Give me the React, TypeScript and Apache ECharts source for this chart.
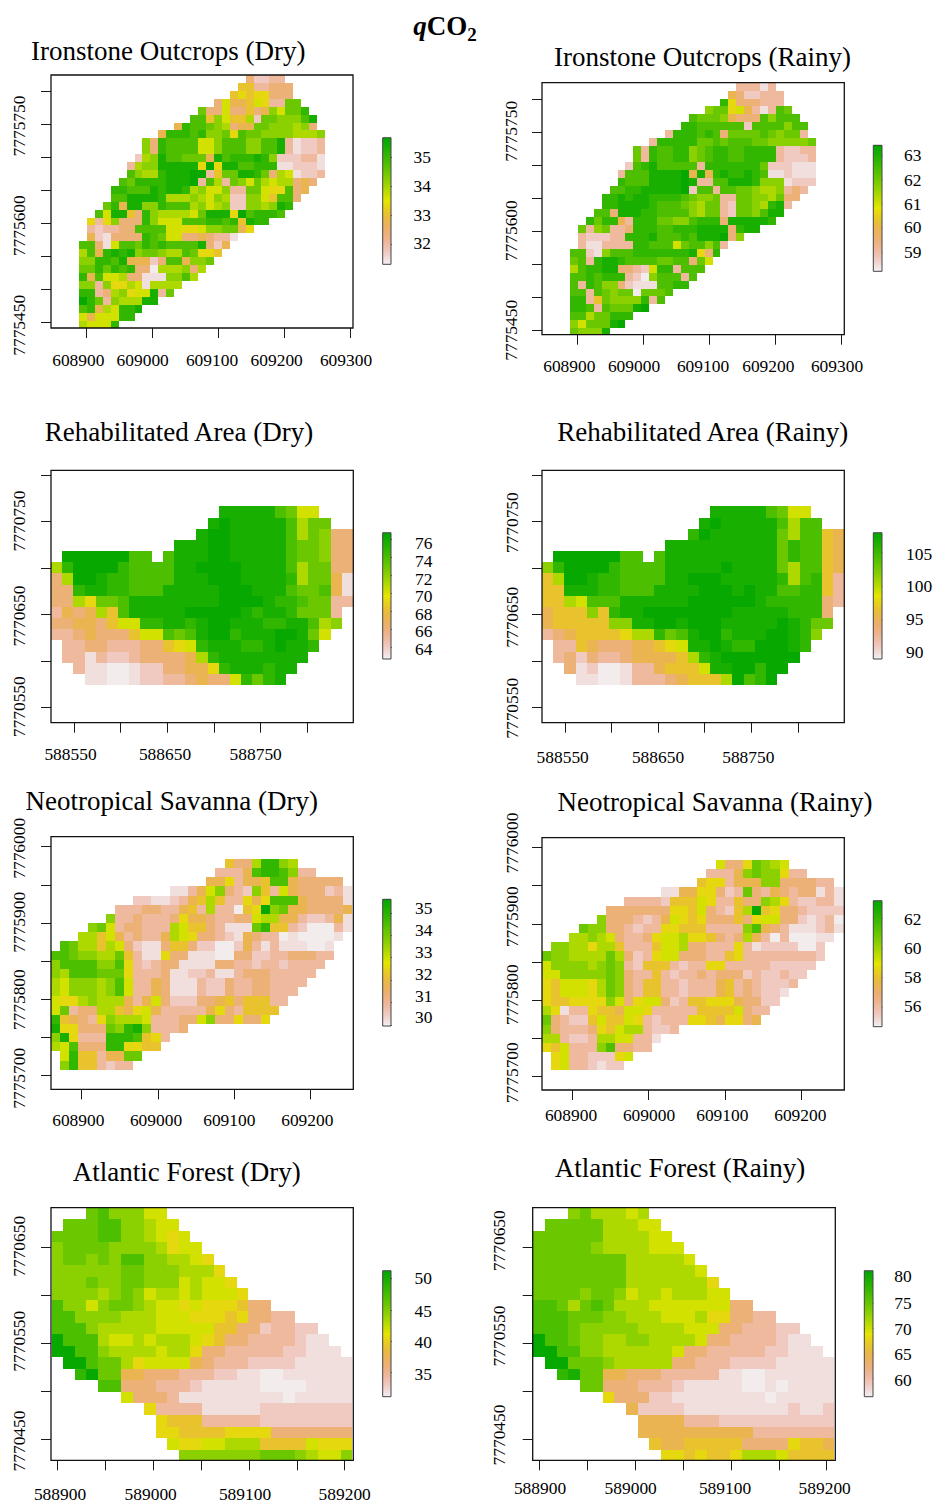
import React, { useEffect, useRef } from "react";
import * as echarts from "echarts";

const FONT = '"Liberation Serif", "Times New Roman", serif';

// Raster rows, top row first: "firstColumn:levels". Each level is one hex digit that
// indexes levelPositions (0 = bottom of the colour bar, f = top), "." = no cell.
const levelPositions = [0.012, 0.04, 0.1, 0.17, 0.25, 0.33, 0.4, 0.467, 0.533, 0.6, 0.667, 0.733, 0.8, 0.867, 0.93, 0.98];

const ironstoneDry = [
  "21:42233","20:6633444","19:67677444","17:485568733bb","15:b44844645a8bbd","14:cc6a86692bbaaace",
  "12:5dccba9455bbaaa9a4","10:5dddcdaab7cbbaaaa999a","8:a4dcccc88acccaacce31223","8:a4dcccc88acccaacce31223",
  "7:29aeccbbb5ecdddeda222331","6:39aaeeeee7f7eeccddd112221","6:ca99deeeff36bbeedb4981223","5:cbddddeeef3c93ba8b9899454",
  "4:ddcccedeed9a88a33bb877c45","4:cceeeed999a98a922aa86cc4","3:bd5eeaadccc9a89a22aa9aed","2:c8ee64da99998beee7fcdddc",
  "1:737a444da888cccddcd6edd","1:323344cccc88778aabb57","1:5214444dcb884454331","0:cc418ccbdcdcccce425",
  "0:9c5dedeabba99cb776","0:aaddce55524cc5aab","0:bbdbdcd440999a49","0:d5c88944111aac9",
  "0:aa3a779819999","0:dd349a788e3b","0:fdb3a999ee","0:cd598dde","0:85888dd","0:9888d",
];
const ironstoneRainy = [
  "21:33313","20:5422333","19:d7444333","17:abb785313cb","15:cbbba5444caccc","14:ddcccccc2ccccacc",
  "12:3dddcdc4bbbbcbabb3","10:3dddddbbcbcccbbaaaaab","8:b3dccddabcddccdddd32233","8:b3dccddabcddccdddd32223",
  "7:2cdeccccc3dddddddb222111","6:3ccceeeef5e5deddedc112111","6:dccceeeefe33cceeedaaa1222","5:ccddeeeeef2cc3ccbba99a343",
  "4:ddedeeddddcbaab33bbaa9b44","4:ddeeeedcccba9bb32bba9de3","3:cc4eeeddcccca9bb32bbacee","2:dbdd53dddbbaacddd4eeeeed",
  "1:b3ab334dddccdddeeee4dee","1:322233dddecccdceeef4a","1:3113333ddccc8bccac3","0:cc21acccddddddde74d",
  "0:bc3deedccccbbcc4b8","0:9cddee44328dd3ccc","0:ccdcddd320accc3c","0:c3dcaa42111ccdd",
  "0:cc3cbabb0bbbc","0:dd36baaaad3c","0:ddc3cbbbef","0:cc9bbddd","0:a8bbbef","0:baaae",
];
const rehabDry = [
  "15:eeeeecb88","14:efeeeeec9bb","13:effeeeeec9ba44","11:eeeffeeeeecbba44","1:ffffffcc.ceeeffeeeeecbba44",
  "0:9dffffdcccceeffffeeeec9bb44","0:49ffeddcccceeefffeeeed9bb51","0:44deeddccceeeeefffeeecbbc51",
  "0:4497bbceeeeeeeeffffeddcbb33","0:354596ceeeeefffffedeedbbb3","0:44554688ddeedeffeeeddeec9a",
  "0:3345444688cbceffdeeeffeb8","1:334433344678deeeddefeed","1:3313223444459deeeeeeee",
  "2:3110012244557deeedee","3:11001223345448dbde",
];
const rehabRainy = [
  "15:eeeeecb88","14:efeeeeec9cc","13:dfeeeeeeb9cc65","11:eeeeeeeeeebdcc65","1:ffffffcc.ceeeeeeeeeebdcc65",
  "0:adffffdcccceeeeefeeeeb9cc65","0:69ffeddcccceefffeeeeed9cd63","0:66eeeddccceeeefffefeeccdd63",
  "0:6698ccceeeeeeffffffeddddd43","0:5666a6deeffffffffeeeeeddd4","0:566666aaeeffefffeeeeefedbb",
  "0:3456666799dbceffdeeeffeda","1:336544455678eefeddfffed","1:3424334555569defffffff",
  "2:4120013356668eeffdff","3:11001333456669fcdf",
];
const savannaDry = [
  "19:6449dda9","18:3335cddca33","17:5573556cc544444","13:11358a432a6385444231","9:221123569633757ccc544441",
  "7:3334433563933067fab5544445","6:a33433347554334489955322351","4:ab8344333986643111bd663200031",
  "3:99685343359874432154330100001","1:cb9969842114664220025313111001","0:ccbaa99b63117441110044223344433",
  "0:accccaac7323441111443323323333","0:a9cccbbb733341122311344433333","0:98aaa9ac83354111322433443333",
  "0:98aaa9ac8335411132243344333","0:8779a999535842224456466633","0:8b34499657853333357436666",
  "0:d65437a9998333448a447447","0:e77444badea3334","0:ae7333dddc673","0:98c444dd7766","1:8d66355bb","1:ad663233",
];
const savannaRainy = [
  "19:8447ba98","18:3335abaa733","17:6773555aa444433","13:115577423b4354344131","9:333326668733644a97322331",
  "7:4444444776843269f674432222","6:a44432358767444647884421230","4:baa443233776663333ac543111231",
  "3:99a98433478897764349530300011","1:aa9979963336889443337312222002","0:baa9999b94237884443367333333332",
  "0:8aaaa9aba326663233773333322222","0:88aaaaaba43363233434442322322","0:7688879ba4366332333563432223",
  "0:7688879ba436633233356343221","0:7667777a847884236677754422","0:9713376658873333366668433",
  "0:b43226866873233377657745","0:a43334768993223","0:9932239988331","0:768333ac4433","1:783322278","1:78332122",
];
const atlanticDry = [
  "3:bcaaa88","1:bbbccaa988","0:bbbbccaa9878","0:abbbbaaaa9788","0:abbabaccaa9987","0:aaaaaabbaaa9997",
  "0:aaabaabbaaa89887","0:aaaa9aba899898887","0:caa8abba98878777644","0:ccaaaa999888777674433",
  "0:ccca9999988888664423322","0:fccc98898999876443333211","0:ffcca99998997443333322111",
  "1:ffcbb97888854333222211111","2:dfbb55444333221100111111","4:cc44433321111100001111",
  "6:84443111111111011111","8:733331111122222222","9:76663333322222222","9:77666677774444444",
  "10:8778899966668777","11:aaaaaaabbba988a",
];
const atlanticRainy = [
  "3:ab99989","1:bbbbb99988","0:bbbbbb999988","0:bbbbba9999888","0:bbbbbbbb999998","0:bbbbbbbb9999998",
  "0:bbbbbbbb99999997","0:bbbbabba899899988","0:ccb9bcb999888888844","0:cccbbbaa9998889774433",
  "0:cccbaaaaa99998884433322","0:fccbaa99aa99998443333211","0:ffccaa9999998443333322111",
  "1:ffbbba9999944333222211111","2:debb55444333331100111111","4:bb44433321111100101111",
  "6:74442211111111011111","8:522221111111112112","9:55553332222222222","9:55555555553333333",
  "10:6556666644447665","11:776766799986666",
];

const ironstoneXTicks = [608900, 609000, 609100, 609200, 609300];
const ironstoneYTicks = [7775450, 7775500, 7775550, 7775600, 7775650, 7775700, 7775750, 7775800];
const ironstoneYLabels = [7775750, 7775600, 7775450];
const rehabXTicks = [588550, 588600, 588650, 588700, 588750, 588800];
const rehabXLabels = [588550, 588650, 588750];
const rehabYTicks = [7770800, 7770750, 7770700, 7770650, 7770600, 7770550];
const rehabYLabels = [7770750, 7770650, 7770550];
const savannaXTicks = [608900, 609000, 609100, 609200];
const savannaYTicks = [7776000, 7775950, 7775900, 7775850, 7775800, 7775750, 7775700];
const savannaYLabels = [7776000, 7775900, 7775800, 7775700];
const atlanticXTicks = [588900, 588950, 589000, 589050, 589100, 589150, 589200];
const atlanticXLabels = [588900, 589000, 589100, 589200];
const atlanticYTicks = [7770650, 7770600, 7770550, 7770500, 7770450];
const atlanticYLabels = [7770650, 7770550, 7770450];

const legendIronDry = [35, 34, 33, 32];
const legendIronRainy = [63, 62, 61, 60, 59];
const legendRehabDry = [76, 74, 72, 70, 68, 66, 64];
const legendRehabRainy = [105, 100, 95, 90];
const legendSavDry = [35, 34, 33, 32, 31, 30];
const legendSavRainy = [62, 60, 58, 56];
const legendAtlDry = [50, 45, 40, 35];
const legendAtlRainy = [80, 75, 70, 65, 60];

type Panel = any;
const panels: Panel[] = [
  {
    title: "Ironstone Outcrops (Dry)", tx: 168.3, ty: 51.2, rows: ironstoneDry,
    frame: [51, 75, 353, 328], xr: [608846.6, 609303.5], yr: [7775442, 7775825.3],
    ox: 608889, oy: 7775825.3, cx: 12, cy: 12,
    xTicks: ironstoneXTicks, xLabels: ironstoneXTicks, xLabelPx: [78.3, 142.7, 212, 276.7, 346], xLabelY: 360,
    yTicks: ironstoneYTicks, yLabels: ironstoneYLabels, yLabelPx: [126, 225.7, 325.3], yLabelX: 19.3,
    bar: [382.7, 137.7, 391, 264.3], zr: [31.32, 35.69], lTicks: legendIronDry, lLabelPx: [157.3, 186, 215, 243.3], lLabelX: 413.5,
  },
  {
    title: "Ironstone Outcrops (Rainy)", tx: 702.5, ty: 57.3, rows: ironstoneRainy,
    frame: [542, 82.7, 844.3, 334.7], xr: [608846, 609304], yr: [7775443, 7775825],
    ox: 608888.4, oy: 7775825, cx: 12, cy: 12,
    xTicks: ironstoneXTicks, xLabels: ironstoneXTicks, xLabelPx: [569.3, 634, 703, 768.3, 837], xLabelY: 365.7,
    yTicks: ironstoneYTicks, yLabels: ironstoneYLabels, yLabelPx: [131.3, 230.7, 330.3], yLabelX: 510.7,
    bar: [873.3, 145.3, 882, 271.3], zr: [58.2, 63.41], lTicks: legendIronRainy, lLabelPx: [155.3, 179.7, 204, 227.3, 251.7], lLabelX: 904,
  },
  {
    title: "Rehabilitated Area (Dry)", tx: 179, ty: 432.2, rows: rehabDry,
    frame: [51, 470.3, 353.3, 722.7], xr: [588525.3, 588849.7], yr: [7770533.9, 7770805],
    ox: 588525.3, oy: 7770766.3, cx: 12, cy: 12,
    xTicks: rehabXTicks, xLabels: rehabXLabels, xLabelPx: [70.5, 165, 255.7], xLabelY: 754.3,
    yTicks: rehabYTicks, yLabels: rehabYLabels, yLabelPx: [521, 616, 706.7], yLabelX: 19.3,
    bar: [382.7, 532.7, 391, 659], zr: [62.7, 76.73], lTicks: legendRehabDry, lLabelPx: [543.4, 561, 578.6, 596.2, 613.8, 631.4, 649], lLabelX: 415,
  },
  {
    title: "Rehabilitated Area (Rainy)", tx: 702.8, ty: 431.5, rows: rehabRainy,
    frame: [542, 470.3, 844.3, 722.7], xr: [588525.6, 588849.6], yr: [7770533.9, 7770805],
    ox: 588525.6, oy: 7770766.3, cx: 12, cy: 12,
    xTicks: rehabXTicks, xLabels: rehabXLabels, xLabelPx: [562.7, 658, 748.3], xLabelY: 756.7,
    yTicks: rehabYTicks, yLabels: rehabYLabels, yLabelPx: [522.7, 617.3, 708.3], yLabelX: 512,
    bar: [873.3, 532.7, 882, 659], zr: [89.06, 108], lTicks: legendRehabRainy, lLabelPx: [553.7, 586, 619.3, 652.3], lLabelX: 906,
  },
  {
    title: "Neotropical Savanna (Dry)", tx: 171.7, ty: 801.2, rows: savannaDry,
    frame: [51, 836.7, 353.3, 1089.3], xr: [608859.7, 609256.9], yr: [7775682.2, 7776013],
    ox: 608859.7, oy: 7775983.8, cx: 12, cy: 12,
    xTicks: savannaXTicks, xLabels: savannaXTicks, xLabelPx: [78.3, 156, 229.3, 307.3], xLabelY: 1120.3,
    yTicks: savannaYTicks, yLabels: savannaYLabels, yLabelPx: [848.3, 922.3, 999.7, 1078.3], yLabelX: 19.3,
    bar: [382.7, 899.3, 391, 1026], zr: [29.96, 35.6], lTicks: legendSavDry, lLabelPx: [907.7, 929.7, 951.7, 973.7, 995.7, 1017.3], lLabelX: 415,
  },
  {
    title: "Neotropical Savanna (Rainy)", tx: 715, ty: 801.7, rows: savannaRainy,
    frame: [542, 837.7, 844.3, 1090], xr: [608860, 609257], yr: [7775682, 7776013],
    ox: 608860, oy: 7775983.8, cx: 12, cy: 12,
    xTicks: savannaXTicks, xLabels: savannaXTicks, xLabelPx: [571, 649, 722.3, 800.3], xLabelY: 1114.7,
    yTicks: savannaYTicks, yLabels: savannaYLabels, yLabelPx: [843, 916.7, 994.7, 1072.7], yLabelX: 512,
    bar: [873.3, 900.7, 882, 1026.7], zr: [54.69, 63.19], lTicks: legendSavRainy, lLabelPx: [919.3, 948.3, 977.3, 1005.7], lLabelX: 904,
  },
  {
    title: "Atlantic Forest (Dry)", tx: 186.7, ty: 1172.2, rows: atlanticDry,
    frame: [51, 1207.7, 353.3, 1460.3], xr: [588893, 589209], yr: [7770428.1, 7770691.3],
    ox: 588893.7, oy: 7770691.3, cx: 12.09, cy: 12,
    xTicks: atlanticXTicks, xLabels: atlanticXLabels, xLabelPx: [60, 150.7, 245, 344.7], xLabelY: 1494,
    yTicks: atlanticYTicks, yLabels: atlanticYLabels, yLabelPx: [1246.3, 1341.2, 1441], yLabelX: 19.3,
    bar: [382.7, 1270.7, 391, 1396.7], zr: [31.09, 51.28], lTicks: legendAtlDry, lLabelPx: [1278.3, 1310.7, 1342.3, 1374.3], lLabelX: 414.5,
  },
  {
    title: "Atlantic Forest (Rainy)", tx: 680, ty: 1168.3, rows: atlanticRainy,
    frame: [532.7, 1207.7, 835.3, 1460.3], xr: [588893, 589209], yr: [7770428.1, 7770691.3],
    ox: 588893.7, oy: 7770691.3, cx: 12.09, cy: 12,
    xTicks: atlanticXTicks, xLabels: atlanticXLabels, xLabelPx: [540, 630.7, 725, 824.7], xLabelY: 1488,
    yTicks: atlanticYTicks, yLabels: atlanticYLabels, yLabelPx: [1240.7, 1336, 1435], yLabelX: 499.3,
    bar: [864.3, 1270.7, 873, 1396.7], zr: [56.4, 81.5], lTicks: legendAtlRainy, lLabelPx: [1276.3, 1302.7, 1329, 1354.3, 1380.3], lLabelX: 894.3,
  },
];

// R's terrain.colors ramp, t = 0 lightest (bottom of the bar), t = 1 green (top).
function terrain(t: number): string {
  const u = 1 - Math.max(0, Math.min(1, t));
  let h, s, v;
  if (u <= 0.5) {
    const w = u / 0.5;
    h = (1 / 3) * (1 - w) + (1 / 6) * w; s = 1; v = 0.65 + 0.25 * w;
  } else {
    const w = (u - 0.5) / 0.5;
    h = (1 / 6) * (1 - w); s = 1 - w; v = 0.9 + 0.05 * w;
  }
  const i = Math.floor(h * 6), f = h * 6 - i;
  const p = v * (1 - s), q = v * (1 - f * s), r = v * (1 - (1 - f) * s);
  const rgb = [[v, r, p], [q, v, p], [p, v, r], [p, q, v], [r, p, v], [v, p, q]][i % 6];
  return "rgb(" + rgb.map((c) => Math.round(c * 255)).join(",") + ")";
}

function cells(p: Panel) {
  const out: number[][] = [];
  p.rows.forEach((row: string, j: number) => {
    const [start, levels] = row.split(":");
    [...levels].forEach((ch, k) => {
      if (ch === ".") return;
      const col = Number(start) + k;
      const pos = levelPositions[parseInt(ch, 16)];
      out.push([
        p.ox + p.cx * (col + 0.5),
        p.oy - p.cy * (j + 0.5),
        p.zr[0] + pos * (p.zr[1] - p.zr[0]),
      ]);
    });
  });
  return out;
}

const nearestText = (values: number[], texts: number[]) => (v: number) => {
  let best = 0;
  values.forEach((c, i) => { if (Math.abs(c - v) < Math.abs(values[best] - v)) best = i; });
  return String(texts[best]);
};

function buildOption() {
  const grid: any[] = [], xAxis: any[] = [], yAxis: any[] = [], series: any[] = [], graphic: any[] = [];
  const label = { fontFamily: FONT, fontSize: 17.4, color: "#000", hideOverlap: false, showMinLabel: true, showMaxLabel: true };
  const tickStyle = { color: "#1a1a1a", width: 1 };
  const title: any[] = [
    {
      left: 445, top: 26, padding: 0, textAlign: "center", textVerticalAlign: "middle",
      text: "{q|q}{c|CO}{s|2}",
      textStyle: {
        rich: {
          q: { fontFamily: FONT, fontSize: 27, fontStyle: "italic", fontWeight: "bold", color: "#000", lineHeight: 30 },
          c: { fontFamily: FONT, fontSize: 27, fontWeight: "bold", color: "#000", lineHeight: 30 },
          s: { fontFamily: FONT, fontSize: 19, fontWeight: "bold", color: "#000", lineHeight: 30, padding: [16, 0, 0, 0] },
        },
      },
    },
  ];

  panels.forEach((p) => {
    const [L, T, R, B] = p.frame;
    const k = grid.length;
    title.push({
      text: p.title, left: p.tx, top: p.ty, padding: 0, textAlign: "center", textVerticalAlign: "middle",
      textStyle: { fontFamily: FONT, fontSize: 27, fontWeight: "normal", color: "#000" },
    });

    // Map panel
    grid.push({ left: L, top: T, width: R - L, height: B - T, outerBoundsMode: "none" });
    const xVal = (px: number) => p.xr[0] + ((px - L) * (p.xr[1] - p.xr[0])) / (R - L);
    const yVal = (px: number) => p.yr[1] - ((px - T) * (p.yr[1] - p.yr[0])) / (B - T);
    const xLab = p.xLabelPx.map(xVal);
    const yLab = p.yLabelPx.map(yVal);
    xAxis.push({
      gridIndex: k, type: "value", min: p.xr[0], max: p.xr[1], position: "bottom",
      axisLine: { show: false }, splitLine: { show: false },
      axisTick: { show: true, length: 10, lineStyle: tickStyle, customValues: p.xTicks },
      axisLabel: { ...label, customValues: xLab, margin: p.xLabelY - B - 8.5, formatter: nearestText(xLab, p.xLabels) },
    });
    yAxis.push({
      gridIndex: k, type: "value", min: p.yr[0], max: p.yr[1], position: "left",
      axisLine: { show: false }, splitLine: { show: false },
      axisTick: { show: true, length: 10, lineStyle: tickStyle, customValues: p.yTicks },
      axisLabel: { ...label, rotate: 90, customValues: yLab, margin: L - p.yLabelX - 8.5, formatter: nearestText(yLab, p.yLabels) },
    });
    const span = p.zr[1] - p.zr[0];
    series.push({
      type: "custom", xAxisIndex: k, yAxisIndex: k, coordinateSystem: "cartesian2d", clip: true, silent: true,
      encode: { x: 0, y: 1 }, data: cells(p),
      renderItem: (_: any, api: any) => {
        const x = api.value(0), y = api.value(1), v = api.value(2);
        const a = api.coord([x - p.cx / 2, y + p.cy / 2]);
        const b = api.coord([x + p.cx / 2, y - p.cy / 2]);
        const x1 = Math.round(a[0]), y1 = Math.round(a[1]);
        return {
          type: "rect",
          shape: { x: x1, y: y1, width: Math.round(b[0]) - x1, height: Math.round(b[1]) - y1 },
          style: { fill: terrain((v - p.zr[0]) / span) },
        };
      },
    });
    graphic.push({
      type: "rect", z: 50, silent: true, shape: { x: L, y: T, width: R - L, height: B - T },
      style: { fill: "none", stroke: "#111", lineWidth: 1.3 },
    });

    // Colour bar: one slice per step of the bar's value range
    const [bl, bt, br, bb] = p.bar;
    const g = grid.length;
    const zVal = (px: number) => p.zr[1] - ((px - bt) * span) / (bb - bt);
    const zLab = p.lLabelPx.map(zVal);
    const steps = 63;
    const dz = span / steps;
    grid.push({ left: bl, top: bt, width: br - bl, height: bb - bt, outerBoundsMode: "none" });
    xAxis.push({ gridIndex: g, type: "value", min: 0, max: 1, show: false });
    yAxis.push({
      gridIndex: g, type: "value", min: p.zr[0], max: p.zr[1], position: "right",
      axisLine: { show: false }, splitLine: { show: false },
      axisTick: { show: true, length: 9, lineStyle: tickStyle, customValues: p.lTicks },
      axisLabel: { ...label, customValues: zLab, margin: p.lLabelX - br, formatter: nearestText(zLab, p.lTicks) },
    });
    series.push({
      type: "custom", xAxisIndex: g, yAxisIndex: g, coordinateSystem: "cartesian2d", silent: true,
      encode: { x: 0, y: 1 },
      data: Array.from({ length: steps }, (_u, i) => [0.5, p.zr[0] + dz * (i + 0.5)]),
      renderItem: (params: any, api: any) => {
        const z = api.value(1);
        const a = api.coord([0.5, z + dz / 2]);
        const b = api.coord([0.5, z - dz / 2]);
        const y1 = Math.round(a[1]);
        const box = params.coordSys;
        return {
          type: "rect",
          shape: { x: box.x, y: y1, width: box.width, height: Math.round(b[1]) - y1 },
          style: { fill: terrain((z - p.zr[0]) / span) },
        };
      },
    });
    graphic.push({
      type: "rect", z: 50, silent: true, shape: { x: bl, y: bt, width: br - bl, height: bb - bt },
      style: { fill: "none", stroke: "#444", lineWidth: 1 },
    });
  });

  return { animation: false, backgroundColor: "#fff", title, grid, xAxis, yAxis, series, graphic };
}

export default function App() {
  const ref = useRef<HTMLDivElement>(null);
  useEffect(() => {
    const chart = echarts.init(ref.current!, undefined, { renderer: "svg" });
    chart.setOption(buildOption());
    return () => chart.dispose();
  }, []);
  return <div ref={ref} style={{ position: "absolute", left: 0, top: 0, width: 933, height: 1503 }} />;
}
